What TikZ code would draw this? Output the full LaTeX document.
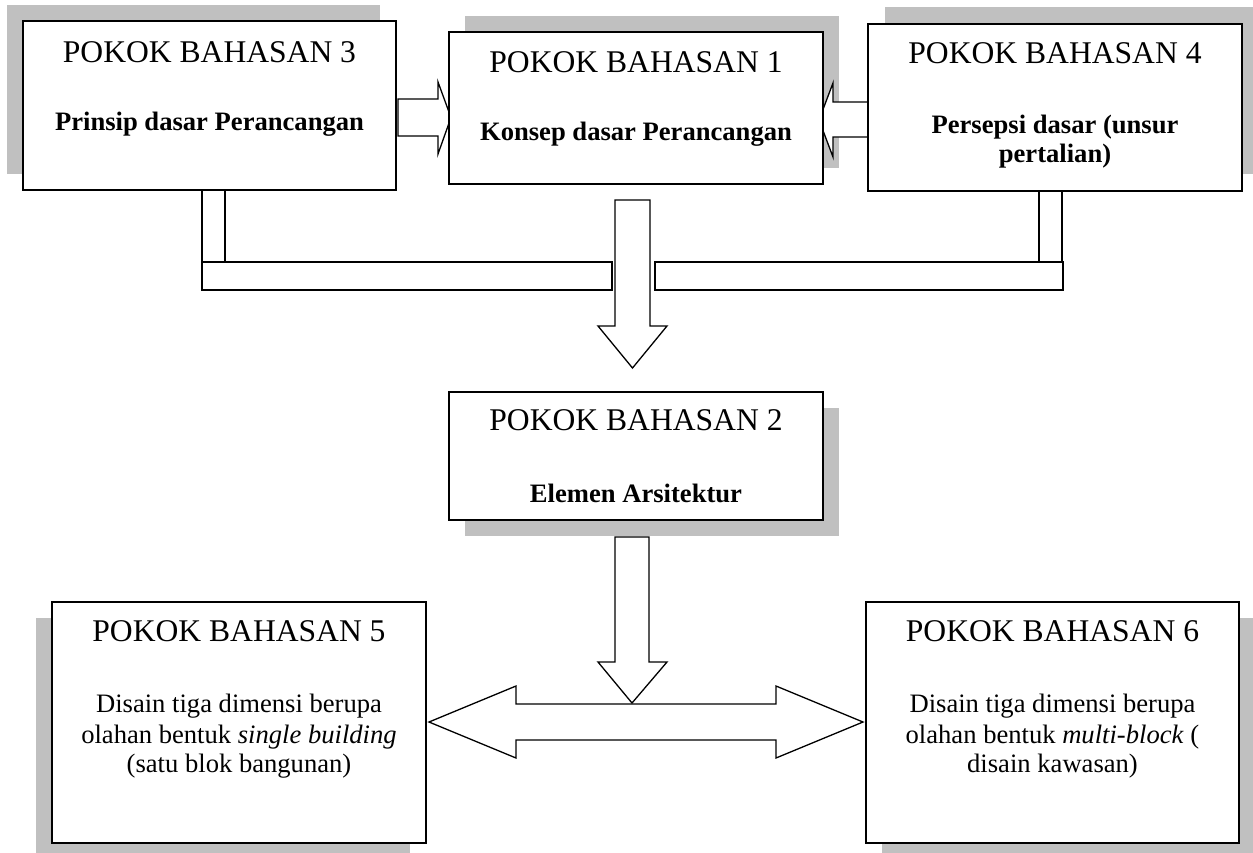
\documentclass[tikz,border=0pt]{standalone}
\usepackage{fontspec}
\setmainfont{Liberation Serif}
\usetikzlibrary{calc}
\definecolor{shadowgray}{HTML}{C0C0C0}
\pgfdeclarelayer{shadowlayer}
\pgfdeclarelayer{arrowlayer}
\pgfsetlayers{shadowlayer,arrowlayer,main}
\begin{document}
\begin{tikzpicture}[x=1pt,y=-1pt,
  box/.style={draw=black, line width=1.6pt, fill=white, inner sep=0pt, outer sep=0pt, anchor=north west},
  blockarrow/.style={draw=black, line width=1.3pt, fill=white, line join=miter},
  shade/.style={fill=shadowgray, draw=none},
  title/.style={anchor=base, inner sep=0pt, font=\fontsize{31.6}{36}\selectfont},
  bodyb/.style={anchor=base, inner sep=0pt, font=\fontsize{26.6}{30}\selectfont\bfseries},
  bodyr/.style={anchor=base, inner sep=0pt, font=\fontsize{26.6}{30}\selectfont},
]
\useasboundingbox (0,0) rectangle (1253,852);
\clip (0,0) rectangle (1253,852);

% boxes
\node[box, minimum width=373pt, minimum height=169pt] (b3) at (23,21) {};
\node[box, minimum width=374pt, minimum height=152pt] (b1) at (449,32) {};
\node[box, minimum width=374pt, minimum height=167pt] (b4) at (868,24) {};
\node[box, minimum width=374pt, minimum height=128pt] (b2) at (449,392) {};
\node[box, minimum width=374pt, minimum height=241pt] (b5) at (52,602) {};
\node[box, minimum width=373pt, minimum height=241pt] (b6) at (866,602) {};

% shadows
\begin{pgfonlayer}{shadowlayer}
\fill[shade] ($(b3.north west)+(-16,-16)$) rectangle ($(b3.south east)+(-16,-16)$);
\fill[shade] ($(b1.north west)+(16,-16)$) rectangle ($(b1.south east)+(16,-16)$);
\fill[shade] ($(b4.north west)+(17,-17)$) rectangle ($(b4.south east)+(17,-17)$);
\fill[shade] ($(b2.north west)+(16,16)$) rectangle ($(b2.south east)+(16,16)$);
\fill[shade] ($(b5.north west)+(-16,16)$) rectangle ($(b5.south east)+(-16,16)$);
\fill[shade] ($(b6.north west)+(16,16)$) rectangle ($(b6.south east)+(16,16)$);
\end{pgfonlayer}

% block arrows
\begin{pgfonlayer}{arrowlayer}
% 3 -> 1
\draw[blockarrow] (398,99) -- (438,99) -- (438,82) -- (451,117.5) -- (438,154) -- (438,136) -- (398,136) -- cycle;
% 4 -> 1
\draw[blockarrow] (868,102) -- (833,102) -- (833,83) -- (819,120) -- (833,157) -- (833,137) -- (868,137) -- cycle;
% stems and bars
\draw[blockarrow] (202,190) rectangle (225,262);
\draw[blockarrow] (1039,190) rectangle (1062,262);
\draw[blockarrow] (202,262) rectangle (612,290);
\draw[blockarrow] (655,262) rectangle (1063,290);
% central down arrow to box 2
\draw[blockarrow] (615,200) -- (650,200) -- (650,326) -- (667,326) -- (632.5,368) -- (598,326) -- (615,326) -- cycle;
% down arrow from box 2
\draw[blockarrow] (615,537) -- (649,537) -- (649,662) -- (667,662) -- (632,703) -- (598,662) -- (615,662) -- cycle;
% double arrow
\draw[blockarrow] (429,722) -- (516,686) -- (516,704) -- (776,704) -- (776,686) -- (863,722) -- (776,758) -- (776,740) -- (516,740) -- (516,758) -- cycle;
\end{pgfonlayer}

% texts
\node[title] (t3) at (209.5,62) {POKOK BAHASAN 3};
\node[bodyb] (s3) at (209.5,130) {Prinsip dasar Perancangan};

\node[title] (t1) at (636,72) {POKOK BAHASAN 1};
\node[bodyb] (s1) at (636,140) {Konsep dasar Perancangan};

\node[title] (t4) at (1055,63) {POKOK BAHASAN 4};
\node[bodyb] (s4a) at (1055,133) {Persepsi dasar (unsur};
\node[bodyb] (s4b) at (1055,162) {pertalian)};

\node[title] (t2) at (636,430) {POKOK BAHASAN 2};
\node[bodyb] (s2) at (636,502) {Elemen Arsitektur};

\node[title] (t5) at (239,641) {POKOK BAHASAN 5};
\node[bodyr] (s5a) at (239,712) {Disain tiga dimensi berupa};
\node[bodyr] (s5b) at (239,743) {olahan bentuk \textit{single building}};
\node[bodyr] (s5c) at (239,772) {(satu blok bangunan)};

\node[title] (t6) at (1052.5,641) {POKOK BAHASAN 6};
\node[bodyr] (s6a) at (1052.5,712) {Disain tiga dimensi berupa};
\node[bodyr] (s6b) at (1052.5,743) {olahan bentuk \textit{multi-block} (};
\node[bodyr] (s6c) at (1052.5,772) {disain kawasan)};
\end{tikzpicture}
\end{document}
